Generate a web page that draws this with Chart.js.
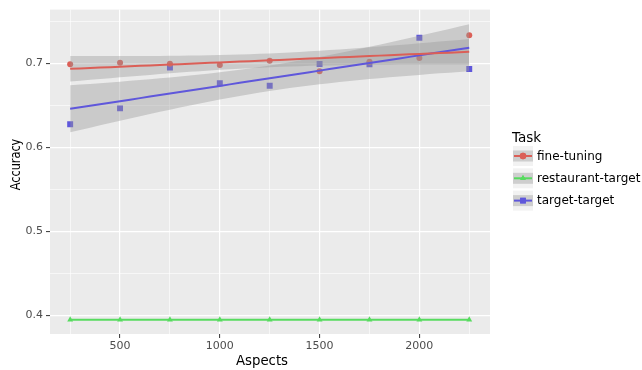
<!DOCTYPE html>
<html>
<head>
<meta charset="utf-8">
<script src="https://cdn.jsdelivr.net/npm/chart.js@4.4.1/dist/chart.umd.min.js"></script>
<style>
  body { margin: 0; background: #fff; }
  canvas { display: block; }
</style>
</head>
<body>
<canvas id="chart" width="642" height="370"></canvas>
<script>
// Data
const aspects = [250, 500, 750, 1000, 1250, 1500, 1750, 2000, 2250];
const fineTuning = [0.699, 0.7008, 0.6996, 0.698, 0.703, 0.6906, 0.702, 0.7064, 0.7335];
const restaurantTarget = [0.395, 0.395, 0.395, 0.395, 0.395, 0.395, 0.395, 0.395, 0.395];
const targetTarget = [0.6276, 0.6465, 0.695, 0.6764, 0.6733, 0.6993, 0.6988, 0.7304, 0.6934];

const xTicks = [250, 500, 750, 1000, 1250, 1500, 1750, 2000, 2250];
const xMajor = [500, 1000, 1500, 2000];
const yTicks = [0.4, 0.45, 0.5, 0.55, 0.6, 0.65, 0.7, 0.75];
const yMajor = [0.4, 0.5, 0.6, 0.7];

const taskNames = ['fine-tuning', 'restaurant-target', 'target-target'];
const taskColors = ['#db5f57', '#57db5f', '#5f57db'];
const taskShapes = ['circle', 'triangle', 'rect'];

// linear fit + 95% confidence band (like geom_smooth(method='lm'))
function lmFit(xs, ys) {
    const n = xs.length;
    const mx = xs.reduce((a, b) => a + b, 0) / n;
    const my = ys.reduce((a, b) => a + b, 0) / n;
    let sxx = 0, sxy = 0;
    for (let i = 0; i < n; i++) {
        sxx += (xs[i] - mx) ** 2;
        sxy += (xs[i] - mx) * (ys[i] - my);
    }
    const b = sxy / sxx;
    const a = my - b * mx;
    let sse = 0;
    for (let i = 0; i < n; i++) sse += (ys[i] - a - b * xs[i]) ** 2;
    const s = Math.sqrt(sse / (n - 2));
    const t = 2.3646; // t(0.975, df=7)
    const line = [], upper = [], lower = [];
    const x0 = xs[0], x1 = xs[n - 1];
    for (let k = 0; k <= 40; k++) {
        const x = x0 + (x1 - x0) * k / 40;
        const y = a + b * x;
        const se = s * Math.sqrt(1 / n + (x - mx) ** 2 / sxx);
        line.push({ x, y });
        upper.push({ x, y: y + t * se });
        lower.push({ x, y: y - t * se });
    }
    return { line, upper, lower };
}

const fitFine = lmFit(aspects, fineTuning);
const fitTarget = lmFit(aspects, targetTarget);
const pts = (ys) => aspects.map((x, i) => ({ x, y: ys[i] }));
const bandFill = 'rgba(153,153,153,0.4)';

const datasets = [
    // points (drawn first, bands go over them)
    { type: 'scatter', data: pts(fineTuning), pointStyle: 'circle', pointRadius: 3,
      backgroundColor: taskColors[0], borderWidth: 0, order: 5 },
    { type: 'scatter', data: pts(targetTarget), pointStyle: 'rect', pointRadius: 4.2,
      backgroundColor: taskColors[2], borderWidth: 0, order: 5 },
    // bands
    { type: 'line', data: fitFine.upper, fill: '+1', backgroundColor: bandFill,
      borderWidth: 0, pointRadius: 0, order: 4 },
    { type: 'line', data: fitFine.lower, fill: false, borderWidth: 0, pointRadius: 0, order: 4 },
    { type: 'line', data: fitTarget.upper, fill: '+1', backgroundColor: bandFill,
      borderWidth: 0, pointRadius: 0, order: 3 },
    { type: 'line', data: fitTarget.lower, fill: false, borderWidth: 0, pointRadius: 0, order: 3 },
    // fitted lines
    { type: 'line', data: fitFine.line, borderColor: taskColors[0], borderWidth: 2,
      pointRadius: 0, fill: false, order: 1 },
    { type: 'line', data: fitTarget.line, borderColor: taskColors[2], borderWidth: 2,
      pointRadius: 0, fill: false, order: 1 },
    // restaurant-target line with points
    { type: 'line', data: pts(restaurantTarget), borderColor: taskColors[1], borderWidth: 2,
      pointStyle: 'triangle', pointRadius: 3.4, backgroundColor: taskColors[1],
      pointBorderWidth: 0, fill: false, order: 1 }
];

const ggPlugin = {
    id: 'gg',
    beforeDraw(chart) {
        const { ctx, chartArea: a } = chart;
        ctx.save();
        ctx.fillStyle = '#ebebeb';
        ctx.fillRect(a.left, a.top, a.right - a.left, a.bottom - a.top);
        ctx.restore();
    },
    afterDraw(chart) {
        const { ctx } = chart;
        // axis titles
        ctx.save();
        ctx.fillStyle = '#000';
        ctx.font = '13.3px "DejaVu Sans"';
        ctx.textAlign = 'center';
        ctx.textBaseline = 'middle';
        ctx.fillText('Aspects', 262, 362);
        ctx.translate(17, 164.5);
        ctx.rotate(-Math.PI / 2);
        ctx.scale(0.85, 1);
        ctx.fillText('Accuracy', 0, 0);
        ctx.restore();

        // legend
        ctx.save();
        ctx.font = '13.5px "DejaVu Sans"';
        ctx.textAlign = 'left';
        ctx.textBaseline = 'alphabetic';
        ctx.fillStyle = '#000';
        ctx.fillText('Task', 512, 142.3);
        ctx.font = '12px "DejaVu Sans"';
        ctx.textBaseline = 'middle';
        for (let i = 0; i < taskNames.length; i++) {
            const kx = 513, ky = 146 + i * 22.3, kw = 20, kh = 20;
            const cy = ky + kh / 2;
            ctx.fillStyle = '#f2f2f2';
            ctx.fillRect(kx, ky, kw, kh);
            ctx.fillStyle = bandFill;
            ctx.fillRect(kx, cy - 5.5, kw, 11);
            ctx.strokeStyle = taskColors[i];
            ctx.lineWidth = 2;
            ctx.beginPath();
            ctx.moveTo(kx + 1, cy);
            ctx.lineTo(kx + kw - 1, cy);
            ctx.stroke();
            ctx.fillStyle = taskColors[i];
            Chart.helpers.drawPoint(ctx, { pointStyle: taskShapes[i], radius: i === 2 ? 4 : 3.2, borderWidth: 0 }, kx + kw / 2, cy);
            ctx.fill();
            ctx.fillStyle = '#000';
            ctx.fillText(taskNames[i], 537, cy + 0.5);
        }
        ctx.restore();
    }
};

const gridWidth = (list) => (c) => (c.tick && list.includes(+c.tick.value.toFixed(2)) ? 1.2 : 0.6);
const tickColor = (list) => (c) => (c.tick && list.includes(+c.tick.value.toFixed(2)) ? '#333333' : 'rgba(0,0,0,0)');

new Chart(document.getElementById('chart'), {
    type: 'line',
    data: { datasets },
    plugins: [ggPlugin],
    options: {
        responsive: false,
        animation: false,
        devicePixelRatio: 1,
        layout: { padding: { top: 7, right: 152, left: 0, bottom: 0 } },
        plugins: { legend: { display: false }, tooltip: { enabled: false } },
        scales: {
            x: {
                type: 'linear', min: 149, max: 2354,
                afterBuildTicks: (s) => { s.ticks = xTicks.map(v => ({ value: v })); },
                afterFit: (s) => { s.height = 36; },
                border: { display: false },
                grid: { color: '#ffffff', lineWidth: gridWidth(xMajor), tickLength: 4,
                        tickWidth: 1, tickColor: tickColor(xMajor) },
                ticks: {
                    padding: 2, color: '#4d4d4d', maxRotation: 0, autoSkip: false,
                    font: { family: 'DejaVu Sans', size: 11 },
                    callback: (v) => (xMajor.includes(v) ? String(v) : '')
                }
            },
            y: {
                type: 'linear', min: 0.378, max: 0.764,
                afterBuildTicks: (s) => { s.ticks = yTicks.map(v => ({ value: v })); },
                afterFit: (s) => { s.width = 50; },
                border: { display: false },
                grid: { color: '#ffffff', lineWidth: gridWidth(yMajor), tickLength: 4,
                        tickWidth: 1, tickColor: tickColor(yMajor) },
                ticks: {
                    padding: 3, color: '#4d4d4d', autoSkip: false,
                    font: { family: 'DejaVu Sans', size: 11 },
                    callback: (v) => (yMajor.includes(+v.toFixed(2)) ? v.toFixed(1) : '')
                }
            }
        }
    }
});
</script>
</body>
</html>
